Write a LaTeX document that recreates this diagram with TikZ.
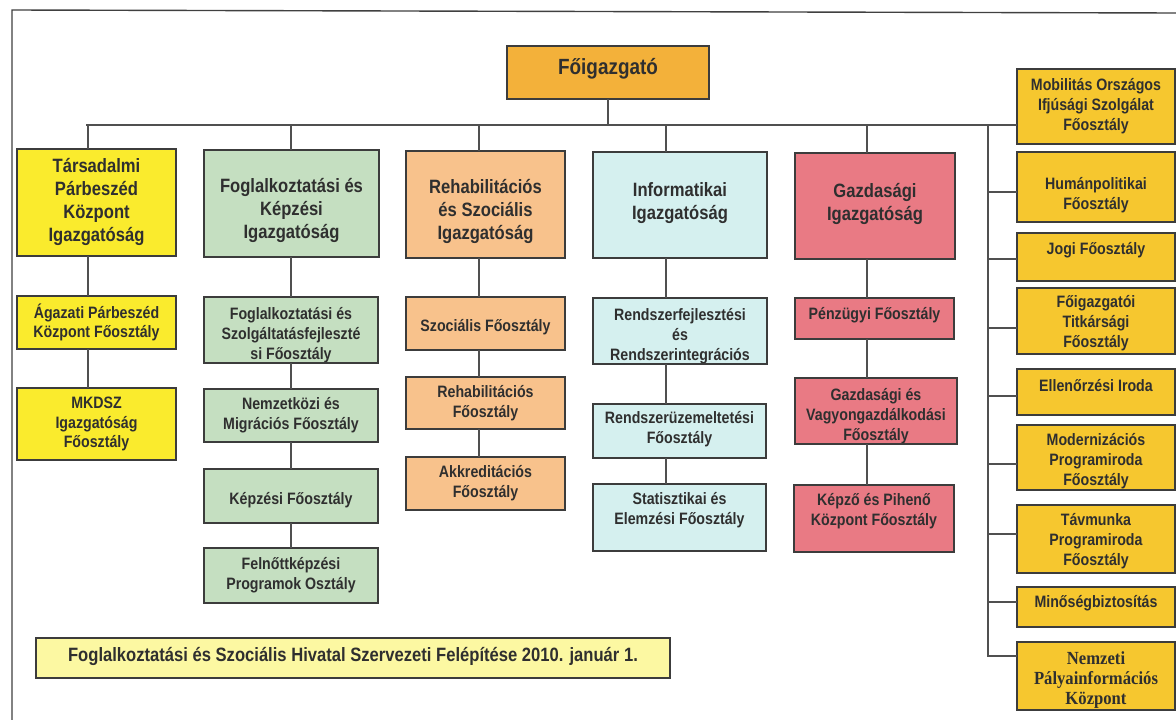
\documentclass[tikz,border=0pt]{standalone}
\usepackage{fontspec}
\newfontfamily\af{Liberation Sans}[FakeStretch=0.86]
\newfontfamily\tf{Liberation Serif}[FakeStretch=0.9]
\definecolor{cYel}{HTML}{FAEB2D}
\definecolor{cGold}{HTML}{F6C72F}
\definecolor{cOrng}{HTML}{F3B13A}
\definecolor{cGrn}{HTML}{C5DFC1}
\definecolor{cPeach}{HTML}{F8C28C}
\definecolor{cCyan}{HTML}{D5F0EF}
\definecolor{cPink}{HTML}{E97A84}
\definecolor{cBan}{HTML}{FCF8A2}
\definecolor{cTxt}{HTML}{2F2F2F}
\definecolor{cBord}{HTML}{3C3C3C}
\definecolor{cLine}{HTML}{505050}
\tikzset{
  boxbase/.style={draw=cBord, inner sep=0pt, outer sep=0pt},
  mainbox/.style={boxbase, line width=2.6pt},
  subbox/.style={boxbase, line width=1.5pt},
  topbox/.style={boxbase, line width=1.8pt},
  link/.style={draw=cLine, line width=1.3pt},
  frameline/.style={draw=cLine!80!black, line width=1.4pt},
  boxtext/.style={align=center, inner sep=0pt, text=cTxt},
}
\newcommand{\fTop}{\af\bfseries\fontsize{22}{26}\selectfont}
\newcommand{\fMain}{\af\bfseries\fontsize{19.3}{23}\selectfont}
\newcommand{\fSub}{\af\bfseries\fontsize{16.5}{19.7}\selectfont}
\newcommand{\fRight}{\af\bfseries\fontsize{16.5}{20}\selectfont}
\newcommand{\fSerif}{\tf\bfseries\fontsize{18.5}{19.6}\selectfont}
% name, x1, y1, x2, y2, box style, font, dy, text
\newcommand{\obox}[9]{%
  \node[#6, minimum width={#4-#2}, minimum height={#5-#3}] (#1) at ({(#2+#4)/2},{(#3+#5)/2}) {};
  \begin{scope}
    \clip ({#2+1.2},{#3+1.2}) rectangle ({#4-1.2},{#5-1.2});
    \node[boxtext, font=#7] (#1-t) at ({(#2+#4)/2},{(#3+#5)/2+#8}) {#9};
  \end{scope}
}
\begin{document}
\begin{tikzpicture}[x=1pt,y=-1pt]
\useasboundingbox (0,0) rectangle (1176,720);
\fill[white] (0,0) rectangle (1176,720);
% frame
\coordinate (frTL) at (12,10);
\coordinate (frTR) at (1176,13);
\coordinate (frBL) at (12,720);
\draw[frameline] (frBL) -- (frTL) -- (frTR);

% top
\obox{fo}{507}{46}{709}{99}{topbox, fill=cOrng}{\fTop}{-4}{Főigazgató}

% main directorates
\obox{tars}{17}{149}{176}{256}{mainbox, fill=cYel}{\fMain}{-1}{Társadalmi\\Párbeszéd\\Központ\\Igazgatóság}
\obox{fogl}{204}{150}{379}{257}{mainbox, fill=cGrn}{\fMain}{7}{Foglalkoztatási és\\Képzési\\Igazgatóság}
\obox{rehab}{406}{151}{565}{258}{mainbox, fill=cPeach}{\fMain}{7}{Rehabilitációs\\és Szociális\\Igazgatóság}
\obox{info}{593}{152}{767}{258}{mainbox, fill=cCyan}{\fMain}{-2}{Informatikai\\Igazgatóság}
\obox{gazd}{795}{153}{955}{259}{mainbox, fill=cPink}{\fMain}{-2}{Gazdasági\\Igazgatóság}

% column 1
\obox{agaz}{17}{296}{176}{349}{subbox, fill=cYel}{\fSub}{0}{Ágazati Párbeszéd\\Központ Főosztály}
\obox{mkdsz}{17}{388}{176}{460}{subbox, fill=cYel}{\fSub}{0}{MKDSZ\\Igazgatóság\\Főosztály}
% column 2
\obox{szolg}{204}{297}{378}{363}{subbox, fill=cGrn}{\fSub}{5}{Foglalkoztatási és\\Szolgáltatásfejleszté\\si Főosztály}
\obox{nemz}{204}{389}{378}{442}{subbox, fill=cGrn}{\fSub}{0}{Nemzetközi és\\Migrációs Főosztály}
\obox{kepz}{204}{469}{378}{523}{subbox, fill=cGrn}{\fSub}{4}{Képzési Főosztály}
\obox{feln}{204}{548}{378}{603}{subbox, fill=cGrn}{\fSub}{0}{Felnőttképzési\\Programok Osztály}
% column 3
\obox{szoc}{406}{297}{565}{350}{subbox, fill=cPeach}{\fSub}{4}{Szociális Főosztály}
\obox{rehf}{406}{377}{565}{429}{subbox, fill=cPeach}{\fSub}{0}{Rehabilitációs\\Főosztály}
\obox{akkr}{406}{457}{565}{510}{subbox, fill=cPeach}{\fSub}{0}{Akkreditációs\\Főosztály}
% column 4
\obox{rfejl}{593}{298}{767}{364}{subbox, fill=cCyan}{\fSub}{5}{Rendszerfejlesztési\\és\\Rendszerintegrációs}
\obox{rzem}{593}{404}{766}{458}{subbox, fill=cCyan}{\fSub}{-2}{Rendszerüzemeltetési\\Főosztály}
\obox{stat}{593}{484}{766}{551}{subbox, fill=cCyan}{\fSub}{-7}{Statisztikai és\\Elemzési Főosztály}
% column 5
\obox{penz}{795}{298}{954}{339}{subbox, fill=cPink}{\fSub}{-3}{Pénzügyi Főosztály}
\obox{vagy}{795}{378}{957}{444}{subbox, fill=cPink}{\fSub}{5}{Gazdasági és\\Vagyongazdálkodási\\Főosztály}
\obox{kepzo}{794}{485}{954}{552}{subbox, fill=cPink}{\fSub}{-7}{Képző és Pihenő\\Központ Főosztály}

% right column
\obox{mob}{1017}{69}{1175}{144}{subbox, fill=cGold}{\fRight}{0}{Mobilitás Országos\\Ifjúsági Szolgálat\\Főosztály}
\obox{hum}{1017}{152}{1175}{222}{subbox, fill=cGold}{\fRight}{8}{Humánpolitikai\\Főosztály}
\obox{jogi}{1017}{233}{1175}{281}{subbox, fill=cGold}{\fRight}{-7}{Jogi Főosztály}
\obox{titk}{1017}{288}{1175}{354}{subbox, fill=cGold}{\fRight}{2}{Főigazgatói\\Titkársági\\Főosztály}
\obox{ell}{1017}{369}{1175}{415}{subbox, fill=cGold}{\fRight}{-6}{Ellenőrzési Iroda}
\obox{mod}{1017}{425}{1175}{490}{subbox, fill=cGold}{\fRight}{4}{Modernizációs\\Programiroda\\Főosztály}
\obox{tav}{1017}{505}{1175}{573}{subbox, fill=cGold}{\fRight}{2}{Távmunka\\Programiroda\\Főosztály}
\obox{minb}{1017}{587}{1175}{627}{subbox, fill=cGold}{\fRight}{-4}{Minőségbiztosítás}
\obox{npk}{1017}{642}{1175}{710}{subbox, fill=cGold}{\fSerif}{4}{Nemzeti\\Pályainformációs\\Központ}

% banner
\obox{ban}{36}{638}{670}{678}{subbox, fill=cBan}{\fMain}{-2}{Foglalkoztatási és Szociális Hivatal Szervezeti Felépítése 2010. január 1.}

% connectors
\coordinate (hL) at (86,125);
\coordinate (k1) at (88,125);
\coordinate (k2) at (291,125);
\coordinate (k3) at (479,125);
\coordinate (k4) at (666,125);
\coordinate (k5) at (867,125);
\coordinate (bT) at (988,125);
\coordinate (bB) at (988,656);
\draw[link] (hL) -- (mob.west |- hL);
\draw[link] (fo.south) -- (fo.south |- hL);
\draw[link] (k1) -- (tars.north -| k1);
\draw[link] (k2) -- (fogl.north -| k2);
\draw[link] (k3) -- (rehab.north -| k3);
\draw[link] (k4) -- (info.north -| k4);
\draw[link] (k5) -- (gazd.north -| k5);
% column chains
\draw[link] (tars.south -| k1) -- (agaz.north -| k1);
\draw[link] (agaz.south -| k1) -- (mkdsz.north -| k1);
\draw[link] (fogl.south -| k2) -- (szolg.north -| k2);
\draw[link] (szolg.south -| k2) -- (nemz.north -| k2);
\draw[link] (nemz.south -| k2) -- (kepz.north -| k2);
\draw[link] (kepz.south -| k2) -- (feln.north -| k2);
\draw[link] (rehab.south -| k3) -- (szoc.north -| k3);
\draw[link] (szoc.south -| k3) -- (rehf.north -| k3);
\draw[link] (rehf.south -| k3) -- (akkr.north -| k3);
\draw[link] (info.south -| k4) -- (rfejl.north -| k4);
\draw[link] (rfejl.south -| k4) -- (rzem.north -| k4);
\draw[link] (rzem.south -| k4) -- (stat.north -| k4);
\draw[link] (gazd.south -| k5) -- (penz.north -| k5);
\draw[link] (penz.south -| k5) -- (vagy.north -| k5);
\draw[link] (vagy.south -| k5) -- (kepzo.north -| k5);
% right bus
\coordinate (r1) at (988,192);
\coordinate (r2) at (988,259);
\coordinate (r3) at (988,328);
\coordinate (r4) at (988,396);
\coordinate (r5) at (988,464);
\coordinate (r6) at (988,534);
\coordinate (r7) at (988,602);
\draw[link] (bT) -- (bB) -- (npk.west |- bB);
\draw[link] (r1) -- (hum.west |- r1);
\draw[link] (r2) -- (jogi.west |- r2);
\draw[link] (r3) -- (titk.west |- r3);
\draw[link] (r4) -- (ell.west |- r4);
\draw[link] (r5) -- (mod.west |- r5);
\draw[link] (r6) -- (tav.west |- r6);
\draw[link] (r7) -- (minb.west |- r7);
\end{tikzpicture}
\end{document}
